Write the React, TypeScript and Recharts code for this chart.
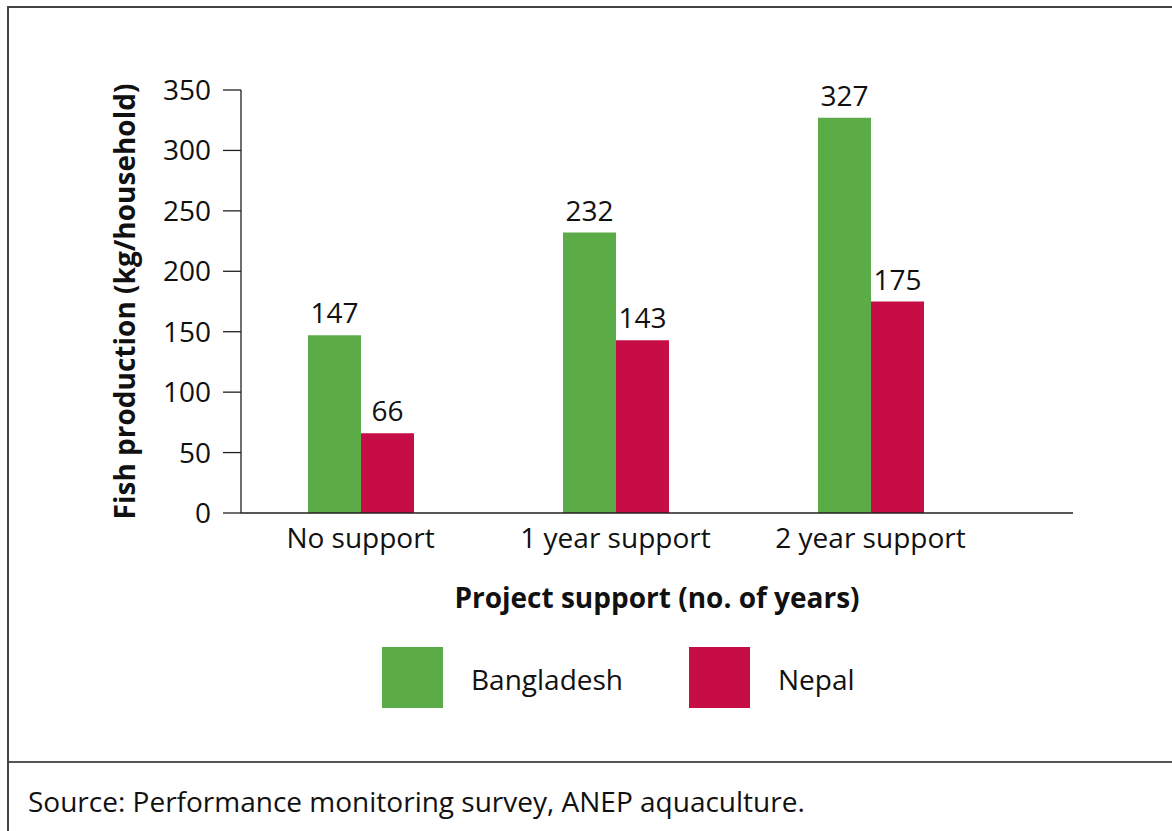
import React from 'react';
import { BarChart, Bar, XAxis, YAxis, LabelList, Legend, Label } from 'recharts';

const categories = ['No support', '1 year support', '2 year support'];
const bangladesh = [147, 232, 327];
const nepal = [66, 143, 175];
const yTicks = [0, 50, 100, 150, 200, 250, 300, 350];
const seriesNames = ['Bangladesh', 'Nepal'];

const data = categories.map((c, i) => ({
  category: c,
  [seriesNames[0]]: bangladesh[i],
  [seriesNames[1]]: nepal[i],
}));

const FONT = '"Open Sans", "Noto Sans", sans-serif';
const GREEN = '#5BAC47';
const RED = '#C60D46';
const AXIS = '#231f20';
const TEXT = '#111';

const legendSquareLeft = [373, 680];
const legendTextLeft = [462, 769];

function LegendContent(props: any) {
  const payload = props.payload || [];
  return (
    <div style={{ position: 'relative', width: 1163, height: 61, fontFamily: FONT }}>
      {payload.map((p: any, i: number) => (
        <React.Fragment key={p.value}>
          <div
            style={{
              position: 'absolute',
              left: legendSquareLeft[i],
              top: 0,
              width: 61,
              height: 61,
              background: p.color,
            }}
          />
          <span
            style={{
              position: 'absolute',
              left: legendTextLeft[i],
              top: 18,
              fontSize: 28,
              lineHeight: '28px',
              color: TEXT,
              whiteSpace: 'nowrap',
            }}
          >
            {p.value}
          </span>
        </React.Fragment>
      ))}
    </div>
  );
}

export default function App() {
  return (
    <div
      style={{
        position: 'absolute',
        left: 7,
        top: 6,
        width: 1163,
        height: 823,
        borderTop: '2px solid #444',
        borderLeft: '2px solid #444',
        fontFamily: FONT,
        background: '#fff',
      }}
    >
      <div style={{ width: 1163, height: 753, borderBottom: '2px solid #555' }}>
        <BarChart
          width={1163}
          height={753}
          data={data}
          margin={{ top: 82, right: 99, left: 0, bottom: 0 }}
          barGap={0}
          style={{ fontFamily: FONT }}
        >
          <XAxis
            dataKey="category"
            height={248}
            axisLine={{ stroke: AXIS, strokeWidth: 1.3 }}
            tickLine={false}
            tickSize={0}
            tickMargin={15}
            padding={{ left: -8, right: 75 }}
            tick={{ fill: TEXT, fontSize: 28, fontFamily: FONT }}
            interval={0}
          >
            <Label
              value="Project support (no. of years)"
              position="insideTop"
              offset={75}
              style={{ fill: TEXT, fontSize: 28, fontWeight: 700, fontFamily: FONT }}
            />
          </XAxis>
          <YAxis
            width={232}
            domain={[0, 350]}
            ticks={yTicks}
            interval={0}
            axisLine={{ stroke: AXIS, strokeWidth: 1.3 }}
            tickLine={{ stroke: AXIS, strokeWidth: 1.3 }}
            tickSize={18}
            tickMargin={12}
            tick={{ fill: TEXT, fontSize: 28, fontFamily: FONT }}
          >
            <Label
              value="Fish production (kg/household)"
              position="center"
              angle={-90}
              style={{ fill: TEXT, fontSize: 28, fontWeight: 700, fontFamily: FONT, textAnchor: 'middle' }}
            />
          </YAxis>
          <Legend
            layout="horizontal"
            verticalAlign="middle"
            align="center"
            wrapperStyle={{ top: 639, left: 0, width: 1163, height: 61 }}
            content={<LegendContent />}
          />
          <Bar dataKey={seriesNames[0]} fill={GREEN} barSize={53} isAnimationActive={false}>
            <LabelList
              dataKey={seriesNames[0]}
              position="top"
              offset={12}
              style={{ fill: TEXT, fontSize: 28, fontFamily: FONT }}
            />
          </Bar>
          <Bar dataKey={seriesNames[1]} fill={RED} barSize={53} isAnimationActive={false}>
            <LabelList
              dataKey={seriesNames[1]}
              position="top"
              offset={12}
              style={{ fill: TEXT, fontSize: 28, fontFamily: FONT }}
            />
          </Bar>
        </BarChart>
      </div>
      <div
        style={{
          marginTop: 24,
          paddingLeft: 19,
          fontSize: 28,
          lineHeight: '28px',
          color: TEXT,
          whiteSpace: 'nowrap',
        }}
      >
        Source: Performance monitoring survey, ANEP aquaculture.
      </div>
    </div>
  );
}
